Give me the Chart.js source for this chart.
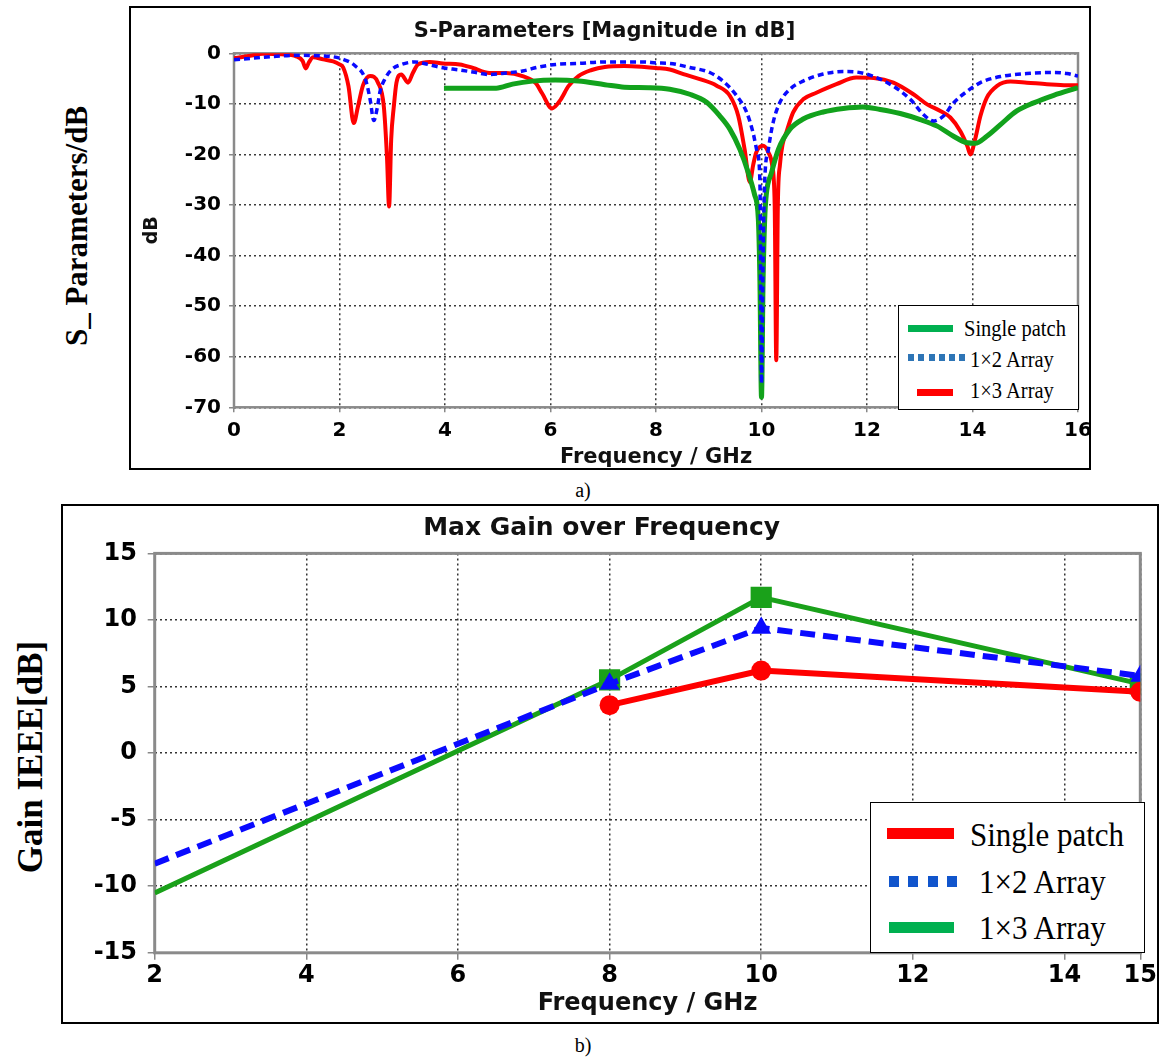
<!DOCTYPE html>
<html><head><meta charset="utf-8">
<script src="https://cdn.jsdelivr.net/npm/chart.js@4.4.1/dist/chart.umd.min.js"></script>
<style>
html,body{margin:0;padding:0;background:#fff;}
body{width:1162px;height:1059px;position:relative;overflow:hidden;}
.box{position:absolute;border:2px solid #000;box-sizing:border-box;background:#fff;overflow:hidden;}
.box canvas{position:absolute;left:0;top:0;}
.serif{font-family:"Liberation Serif","Times New Roman",serif;color:#000;position:absolute;white-space:nowrap;line-height:1;}
.vlab{font-weight:bold;transform:translate(-50%,-50%) rotate(-90deg);}
.cap{transform:translate(-50%,-50%);}
.legend{position:absolute;border:1.5px solid #000;box-sizing:border-box;background:#fff;}
.ls{position:absolute;}
.lt{position:absolute;font-family:"Liberation Serif","Times New Roman",serif;white-space:nowrap;line-height:1;color:#000;transform-origin:left center;}
</style></head><body>
<div class="serif vlab" style="left:76px;top:226px;font-size:31px;">S_ Parameters/dB</div>
<div class="box" id="boxA" style="left:129px;top:6px;width:962px;height:464px;"><canvas id="c1" width="958" height="460"></canvas></div>
<div class="serif cap" style="left:583px;top:490px;font-size:20px;">a)</div>
<div class="serif vlab" style="left:30px;top:757px;font-size:35px;">Gain IEEE[dB]</div>
<div class="box" id="boxB" style="left:61px;top:504px;width:1098px;height:520px;"><canvas id="c2" width="1094" height="516"></canvas></div>
<div class="serif cap" style="left:583px;top:1045px;font-size:20px;">b)</div>
<script>
// ---------- data: S-parameters (chart a) ----------
const SERIES = ['Single patch', '1\u00d72 Array', '1\u00d73 Array'];

const S_FREQ_SINGLE = [3.98,4.53,4.97,5.28,5.66,6.09,6.53,7.03,7.4,7.89,8.26,8.64,8.96,9.21,9.4,9.59,9.75,9.87,9.94,9.97,10.0,10.03,10.06,10.09,10.19,10.32,10.54,10.79,11.17,11.55,11.92,12.25,12.63,13.01,13.33,13.64,13.9,14.05,14.27,14.53,14.84,15.16,15.54,16.0];
const S_DB_SINGLE   = [-6.9,-6.9,-6.9,-6.1,-5.5,-5.3,-5.5,-6.2,-6.7,-6.8,-7.1,-8.1,-9.7,-12.4,-15.0,-19.0,-23.6,-28.0,-32.8,-45,-68.0,-45,-33,-28.0,-23.6,-19.0,-15.0,-13.0,-11.6,-10.9,-10.6,-11.1,-11.9,-13.1,-14.4,-16.4,-17.7,-17.8,-16.4,-14.1,-11.4,-9.8,-8.3,-6.8];

const S_FREQ_ARR2 = [0,0.55,1.18,1.81,2.07,2.3,2.49,2.58,2.65,2.71,2.77,2.87,2.99,3.18,3.43,3.68,3.93,4.28,4.53,4.84,5.16,5.47,5.78,6.1,6.53,7.03,7.4,7.78,8.0,8.26,8.64,9.02,9.27,9.53,9.72,9.84,9.92,9.97,10.0,10.03,10.06,10.13,10.22,10.35,10.54,10.79,11.17,11.55,11.8,12.13,12.5,12.82,13.07,13.26,13.45,13.64,13.9,14.15,14.53,15.03,15.54,15.79,16.0];
const S_DB_ARR2   = [-1.3,-0.8,-0.4,-0.6,-1.2,-2.5,-5.1,-9.1,-13.3,-11.1,-7.5,-4.9,-3.2,-2.2,-1.7,-2.2,-2.8,-3.3,-3.7,-4.2,-3.9,-3.5,-2.7,-2.2,-2.0,-1.7,-1.7,-1.7,-1.9,-2.0,-2.8,-3.8,-5.5,-8.4,-11.7,-15.7,-19.6,-25.5,-65.3,-40,-25.5,-19.0,-13.7,-9.7,-7.1,-5.5,-4.1,-3.6,-3.7,-4.6,-6.5,-9.1,-12.1,-13.4,-12.4,-9.8,-7.5,-5.8,-4.6,-4.0,-3.8,-4.0,-4.5];

const S_FREQ_ARR3 = [0,0.3,0.55,0.9,1.18,1.3,1.36,1.42,1.5,1.69,1.88,2.0,2.07,2.17,2.27,2.35,2.45,2.58,2.73,2.84,2.9,2.94,2.98,3.03,3.08,3.17,3.3,3.39,3.49,3.71,3.96,4.28,4.53,4.84,5.16,5.47,5.72,5.84,6.03,6.19,6.34,6.53,6.78,7.03,7.4,7.78,8.0,8.26,8.52,8.83,9.15,9.4,9.56,9.68,9.78,9.84,9.9,10.03,10.13,10.2,10.25,10.28,10.31,10.35,10.4,10.47,10.6,10.79,11.04,11.42,11.8,12.13,12.5,12.88,13.14,13.39,13.58,13.77,13.9,13.96,14.05,14.15,14.27,14.46,14.72,15.03,15.41,15.79,16.0];
const S_DB_ARR3   = [-1.0,-0.5,-0.1,-0.2,-0.6,-1.5,-3.0,-1.8,-0.8,-1.2,-1.6,-2.2,-2.8,-6.5,-13.8,-10.5,-6.2,-4.5,-5.8,-10.5,-20.5,-30.3,-17.0,-10.5,-5.8,-4.2,-5.8,-3.9,-2.2,-1.7,-2.0,-2.2,-2.9,-3.9,-3.9,-4.5,-5.9,-7.9,-10.9,-9.2,-6.5,-4.5,-3.3,-2.7,-2.5,-2.7,-2.9,-3.2,-4.1,-5.1,-6.4,-8.4,-12.4,-19.0,-25.5,-22.2,-19.6,-18.3,-19.6,-22.0,-30.0,-60.7,-30.0,-22.0,-18.0,-15.7,-11.7,-9.1,-7.8,-6.1,-4.8,-4.9,-5.8,-8.1,-10.1,-11.4,-12.7,-15.4,-18.3,-20.0,-17.0,-12.4,-8.8,-6.5,-5.6,-5.8,-6.1,-6.3,-6.3];

const S_X_TICKS = [0,2,4,6,8,10,12,14,16];
const S_Y_TICKS = [-70,-60,-50,-40,-30,-20,-10,0];

// ---------- data: Max gain (chart b) ----------
const GAIN_FREQ_SINGLE = [8,10,15];
const GAIN_SINGLE      = [3.6,6.2,4.6];
const GAIN_FREQ_ARRAY  = [2,8,10,15];
const GAIN_ARR2        = [-8.3,5.2,9.4,5.8];
const GAIN_ARR3        = [-10.5,5.5,11.7,5.2];
const GAIN_X_TICKS = [2,4,6,8,10,12,14,15];
const GAIN_Y_TICKS = [-15,-10,-5,0,5,10,15];

const zip = (xs, ys) => xs.map((x, i) => ({x: x, y: ys[i]}));
const setTicks = arr => scale => { scale.ticks = arr.map(v => ({value: v})); };

const framePlugin = {
  id: 'frame',
  beforeDatasetsDraw(chart, args, opts) {
    const {ctx, chartArea: a} = chart;
    ctx.save();
    ctx.strokeStyle = opts.color; ctx.lineWidth = opts.width; ctx.setLineDash([]);
    ctx.strokeRect(a.left, a.top, a.right - a.left, a.bottom - a.top);
    ctx.restore();
  }
};

Chart.defaults.font.family = '"DejaVu Sans", Verdana, sans-serif';
Chart.defaults.color = '#000';

// ---------- chart a ----------
new Chart(document.getElementById('c1'), {
  type: 'line',
  data: {
    datasets: [
      {label: SERIES[1], data: zip(S_FREQ_ARR2, S_DB_ARR2), borderColor: '#0a0aff', borderWidth: 3.5, borderDash: [6,4], pointRadius: 0, cubicInterpolationMode: 'monotone', order: 0},
      {label: SERIES[0], data: zip(S_FREQ_SINGLE, S_DB_SINGLE), borderColor: '#12a21c', borderWidth: 5, pointRadius: 0, cubicInterpolationMode: 'monotone', order: 1},
      {label: SERIES[2], data: zip(S_FREQ_ARR3, S_DB_ARR3), borderColor: '#ff0000', borderWidth: 4, pointRadius: 0, cubicInterpolationMode: 'monotone', order: 2}
    ]
  },
  plugins: [framePlugin],
  options: {
    responsive: false, animation: false, devicePixelRatio: 1,
    layout: {padding: {left: 0, right: 11, top: 0, bottom: 0}},
    plugins: {
      legend: {display: false}, tooltip: {enabled: false},
      title: {display: true, text: 'S-Parameters [Magnitude in dB]', color: '#111', font: {size: 21, weight: 'bold', lineHeight: 1.2}, padding: {top: 11.4, bottom: 8.7}},
      frame: {color: '#8a8a8a', width: 2.5}
    },
    scales: {
      x: {
        type: 'linear', min: 0, max: 16,
        afterBuildTicks: setTicks(S_X_TICKS),
        afterFit: s => { s.height = 60.7; s.paddingLeft = 0; s.paddingRight = 0; },
        ticks: {font: {size: 20, weight: 'bold'}, padding: 6.5, color: '#000'},
        grid: {color: '#3a3a3a', lineWidth: 1.5, tickLength: 5, tickColor: '#888', tickWidth: 1.5, tickBorderDash: []},
        border: {display: false, dash: [2,3]},
        title: {display: true, text: 'Frequency / GHz', color: '#111', font: {size: 21, weight: 'bold', lineHeight: 1.0}, padding: {top: 0, bottom: 0}}
      },
      y: {
        type: 'linear', min: -70, max: 0,
        afterBuildTicks: setTicks(S_Y_TICKS),
        afterFit: s => { s.width = 103; s.paddingTop = 0; s.paddingBottom = 0; },
        ticks: {font: {size: 20, weight: 'bold'}, padding: 8, color: '#000'},
        grid: {color: '#3a3a3a', lineWidth: 1.5, tickLength: 5, tickColor: '#888', tickWidth: 1.5, tickBorderDash: []},
        border: {display: false, dash: [2,3]},
        title: {display: true, text: 'dB', color: '#111', font: {size: 19, weight: 'bold', lineHeight: 1.2}, padding: {top: 10, bottom: 0}}
      }
    }
  }
});

// ---------- chart b ----------
new Chart(document.getElementById('c2'), {
  type: 'line',
  data: {
    datasets: [
      {label: SERIES[0], data: zip(GAIN_FREQ_SINGLE, GAIN_SINGLE), borderColor: '#ff0000', backgroundColor: '#ff0000', borderWidth: 6, pointStyle: 'circle', pointRadius: 10, pointBorderWidth: 0, tension: 0, order: 0},
      {label: SERIES[1], data: zip(GAIN_FREQ_ARRAY, GAIN_ARR2), borderColor: '#0a0aff', backgroundColor: '#0a0aff', borderWidth: 6, borderDash: [15,8], pointStyle: 'triangle', pointRadius: [0,11.5,11.5,11.5], pointBorderWidth: 0, tension: 0, order: 1},
      {label: SERIES[2], data: zip(GAIN_FREQ_ARRAY, GAIN_ARR3), borderColor: '#1aa11a', backgroundColor: '#1aa11a', borderWidth: 5, pointStyle: 'rect', pointRadius: [0,15,15,15], pointBorderWidth: 0, tension: 0, order: 2}
    ]
  },
  plugins: [framePlugin],
  options: {
    responsive: false, animation: false, devicePixelRatio: 1,
    layout: {padding: {left: 0, right: 16.7, top: 0, bottom: 0}},
    plugins: {
      legend: {display: false}, tooltip: {enabled: false},
      title: {display: true, text: 'Max Gain over Frequency', color: '#111', font: {size: 25, weight: 'bold', lineHeight: 1.2}, padding: {top: 7, bottom: 10.4}},
      frame: {color: '#8a8a8a', width: 3}
    },
    scales: {
      x: {
        type: 'linear', min: 2, max: 15,
        afterBuildTicks: setTicks(GAIN_X_TICKS),
        afterFit: s => { s.height = 69.2; s.paddingLeft = 0; s.paddingRight = 0; },
        ticks: {font: {size: 24, weight: 'bold'}, padding: 1.8, color: '#000'},
        grid: {color: '#333', lineWidth: 1.5, tickLength: 7, tickColor: '#888', tickWidth: 1.5, tickBorderDash: []},
        border: {display: false, dash: [2,3]},
        title: {display: true, text: 'Frequency / GHz', color: '#111', font: {size: 24, weight: 'bold', lineHeight: 1.0}, padding: {top: 0, bottom: 6}}
      },
      y: {
        type: 'linear', min: -15, max: 15,
        afterBuildTicks: setTicks(GAIN_Y_TICKS),
        afterFit: s => { s.width = 91.7; s.paddingTop = 0; s.paddingBottom = 0; },
        ticks: {font: {size: 24, weight: 'bold'}, padding: 10.7, color: '#000'},
        grid: {color: '#333', lineWidth: 1.5, tickLength: 7, tickColor: '#888', tickWidth: 1.5, tickBorderDash: []},
        border: {display: false, dash: [2,3]},
        title: {display: false}
      }
    }
  }
});

// ---------- HTML legends (text from SERIES) ----------
function buildLegend(box, entries, fontSize, scaleY) {
  const L = document.createElement('div');
  L.className = 'legend';
  Object.assign(L.style, {left: box[0] + 'px', top: box[1] + 'px', width: box[2] + 'px', height: box[3] + 'px'});
  document.body.appendChild(L);
  entries.forEach(e => {
    const s = document.createElement('div');
    s.className = 'ls';
    Object.assign(s.style, {left: (e.x0 - box[0]) + 'px', top: (e.cy - box[1] - e.th / 2) + 'px', width: (e.x1 - e.x0) + 'px', height: e.th + 'px', background: e.bg});
    L.appendChild(s);
    const t = document.createElement('div');
    t.className = 'lt';
    t.textContent = e.text;
    Object.assign(t.style, {left: (e.tx - box[0]) + 'px', top: (e.ty - box[1]) + 'px', fontSize: fontSize + 'px', transform: 'translateY(-50%) scaleY(' + scaleY + ')'});
    L.appendChild(t);
  });
}
const dots = (c, d, g) => 'repeating-linear-gradient(90deg,' + c + ' 0 ' + d + 'px, transparent ' + d + 'px ' + (d + g) + 'px)';

buildLegend([898, 305, 181, 105], [
  {text: SERIES[0], x0: 907, x1: 952, cy: 327.3, th: 6.5, bg: '#00b050', tx: 963, ty: 326.5},
  {text: SERIES[1], x0: 907, x1: 964, cy: 356.7, th: 6.5, bg: dots('#2e75b6', 6, 4.3), tx: 969, ty: 357.5},
  {text: SERIES[2], x0: 916, x1: 952, cy: 391.3, th: 6.5, bg: '#ff0000', tx: 969, ty: 388.5}
], 20.5, 1.15);

buildLegend([870, 802, 275, 151], [
  {text: SERIES[0], x0: 886, x1: 953, cy: 832.5, th: 11, bg: '#ff0000', tx: 969, ty: 833},
  {text: SERIES[1], x0: 888, x1: 956, cy: 880.3, th: 10.5, bg: dots('#1155cc', 10, 9.3), tx: 978, ty: 880},
  {text: SERIES[2], x0: 888, x1: 953, cy: 926.3, th: 10.5, bg: '#00b050', tx: 978, ty: 926}
], 31, 1.1);
</script>
</body></html>
